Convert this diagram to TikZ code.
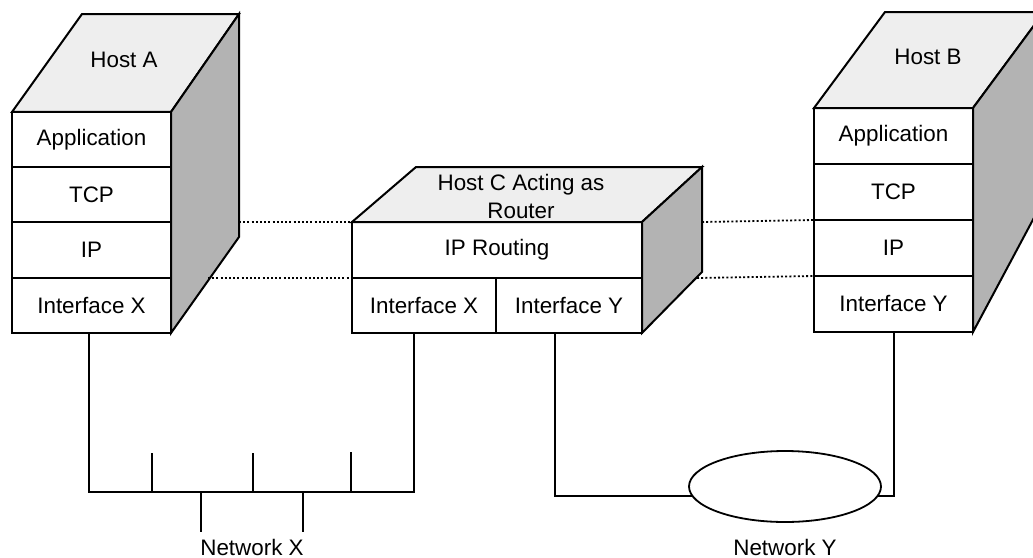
\documentclass[tikz,border=0pt]{standalone}
\usepackage{fontspec}
\setmainfont{Liberation Sans}
\usetikzlibrary{shapes.geometric}
\pgfdeclarelayer{background}
\pgfsetlayers{background,main}
\definecolor{topgray}{HTML}{EEEEEE}
\definecolor{sidegray}{HTML}{B3B3B3}
\tikzset{
  lbl/.style={font=\fontsize{11.2}{14}\selectfont, inner sep=0pt, align=center},
  cell/.style={draw, line width=1pt, fill=white, inner sep=0pt, outer sep=0pt,
    font=\fontsize{11.2}{14}\selectfont},
  topface/.style={draw, line width=1pt, fill=topgray, line join=miter},
  sideface/.style={draw, line width=1pt, fill=sidegray, line join=miter},
  net/.style={line width=0.9pt},
  dotline/.style={line width=0.9pt, dash pattern=on 1pt off 1.1pt},
}
\begin{document}
\begin{tikzpicture}[x=0.5pt, y=-0.5pt]
\useasboundingbox (0,0) rectangle (1033,557);
\clip (0,0) rectangle (1033,557);

% ---------- Host A ----------
\node[cell, minimum width=79.5pt, minimum height=27.625pt] (a1) at (91.5,139.6) {Application};
\node[cell, minimum width=79.5pt, minimum height=27.625pt] (a2) at (91.5,194.9) {TCP};
\node[cell, minimum width=79.5pt, minimum height=27.625pt] (a3) at (91.5,250.1) {IP};
\node[cell, minimum width=79.5pt, minimum height=27.625pt] (a4) at (91.5,305.4) {Interface X};
\draw[topface] (a1.north west) -- (82,14) -- (239,14) -- (a1.north east) -- cycle;
\draw[sideface] (a1.north east) -- (239,14) -- (239,237) -- (a4.south east) -- cycle;
\node[lbl] (ta) at (124,60) {Host A};

% ---------- Host C ----------
\node[cell, minimum width=145pt, minimum height=28pt] (c1) at (497,250) {IP Routing};
\node[cell, minimum width=72pt, minimum height=27.5pt] (c2) at (424,305.5) {Interface X};
\node[cell, minimum width=73pt, minimum height=27.5pt] (c3) at (569,305.5) {Interface Y};
\draw[topface] (c1.north west) -- (416,167) -- (702,167) -- (c1.north east) -- cycle;
\draw[sideface] (c1.north east) -- (702,167) -- (702,272) -- (c3.south east) -- cycle;
\node[lbl] (tc) at (521,196) {Host C Acting as\\Router};

% ---------- Host B ----------
\node[cell, minimum width=79.5pt, minimum height=28pt] (b1) at (893.5,136) {Application};
\node[cell, minimum width=79.5pt, minimum height=28pt] (b2) at (893.5,192) {TCP};
\node[cell, minimum width=79.5pt, minimum height=28pt] (b3) at (893.5,248) {IP};
\node[cell, minimum width=79.5pt, minimum height=28pt] (b4) at (893.5,304) {Interface Y};
\draw[topface] (b1.north west) -- (885,12) -- (1044,12) -- (b1.north east) -- cycle;
\draw[sideface] (b1.north east) -- (1044,12) -- (1044,199) -- (b4.south east) -- cycle;
\node[lbl] (tb) at (928,57) {Host B};

% ---------- dotted peer lines ----------
\coordinate (aEdgeTop) at (239,222);
\coordinate (aEdgeBot) at (208,278);
\coordinate (cEdgeTop) at (702,222);
\coordinate (cEdgeBot) at (697,278);
\draw[dotline] (aEdgeTop) -- (c1.north west);
\draw[dotline] (aEdgeBot) -- (c1.south west);
\draw[dotline] (cEdgeTop) -- (b3.north west);
\draw[dotline] (cEdgeBot) -- (b4.north west);

% ---------- Network X ----------
\coordinate (nxL) at (89,492);
\coordinate (nxR) at (414,492);
\draw[net] (a4.south -| nxL) -- (nxL) -- (nxR) -- (c2.south -| nxR);
\draw[net] (152,453) -- (152,492);
\draw[net] (253,453) -- (253,492);
\draw[net] (351,452) -- (351,492);
\draw[net] (201,492) -- (201,532);
\draw[net] (303,492) -- (303,532);
\node[lbl] (lnx) at (252,547) {Network X};

% ---------- Network Y ----------
\node[draw, ellipse, line width=0.9pt, fill=white, inner sep=0pt,
      minimum width=96pt, minimum height=35.5pt] (ny) at (785,486.5) {};
\coordinate (nyL) at (555,496);
\coordinate (nyR) at (894,496);
\begin{pgfonlayer}{background}
\draw[net] (c3.south -| nyL) -- (nyL) -- (ny.center |- nyL);
\draw[net] (ny.center |- nyR) -- (nyR) -- (b4.south -| nyR);
\end{pgfonlayer}
\node[lbl] (lny) at (785,547) {Network Y};
\end{tikzpicture}
\end{document}
